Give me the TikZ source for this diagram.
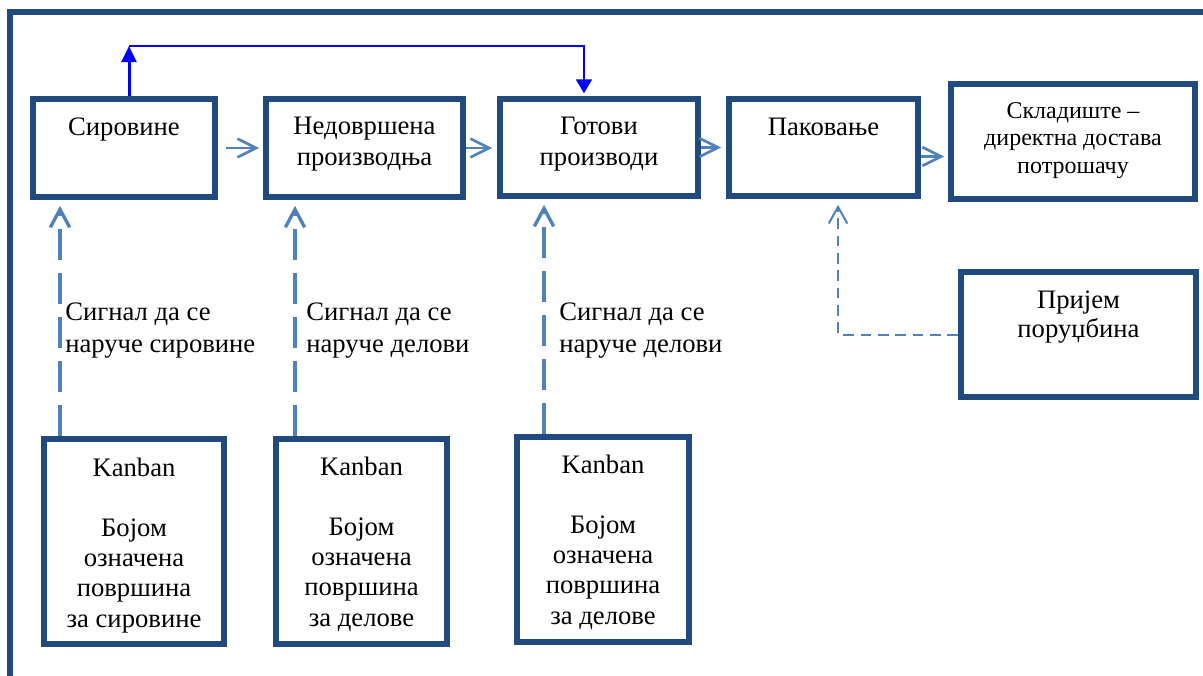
\documentclass[tikz,border=0pt]{standalone}
\usepackage{fontspec}
\setmainfont{Liberation Serif}
\usetikzlibrary{arrows.meta}
\definecolor{boxblue}{RGB}{33,74,127}
\definecolor{flowblue}{RGB}{79,129,189}
\definecolor{linkblue}{RGB}{0,0,255}
\begin{document}
\begin{tikzpicture}[x=0.75pt,y=-0.75pt,
  box/.style 2 args={draw=boxblue, line width=4.2pt, fill=white,
    minimum width=#1*0.75pt, minimum height=#2*0.75pt, inner sep=0pt},
  % multi-line texts are placed by the baseline of their last line
  txt/.style={font=\fontsize{20}{23}\selectfont, align=center, inner sep=0pt, anchor=base},
  sigtxt/.style={font=\fontsize{20}{24}\selectfont, align=left, inner sep=0pt, anchor=base west},
  flow/.style={draw=flowblue, line width=2pt, -{Straight Barb[length=14pt,width=14pt]}},
  sig/.style={draw=flowblue, line width=2.5pt, dash pattern=on 23pt off 10pt,
    -{Straight Barb[length=13.5pt,width=14.5pt]}, shorten >=4.35pt},
  ord/.style={draw=flowblue, line width=1.5pt, dash pattern=on 8pt off 5pt,
    -{Straight Barb[length=12.5pt,width=14pt]}, shorten >=4.35pt},
  link/.style={draw=linkblue, line width=1.5pt}
]
\useasboundingbox (0,0) rectangle (1203,675);
\fill[white] (0,0) rectangle (1203,675);

% outer frame
\draw[boxblue, line width=4.5pt] (10.3,12.2) rectangle (1240,720);

% process chain
\node[box={182.5}{98.5}] (sir) at (124,148) {};
\node[box={197.5}{98.5}] (ned) at (364.5,148) {};
\node[box={198.5}{97.5}] (got) at (599,147.5) {};
\node[box={189.5}{97.5}] (pak) at (823.5,147.5) {};
\node[box={244.5}{115.5}] (skl) at (1073,141.5) {};
\node[box={235.5}{125.5}] (pri) at (1078.5,334.5) {};

% kanban boards
\node[box={180.5}{205.5}] (k1) at (134,541.5) {};
\node[box={171.5}{205.5}] (k2) at (361.5,541.5) {};
\node[box={172.5}{205.5}] (k3) at (603,539.5) {};

% box texts
\node[txt] (sirT) at (124,135) {Сировине};
\node[txt] (nedT) at (364.5,165) {Недовршена\\производња};
\node[txt] (gotT) at (599,165) {Готови\\производи};
\node[txt] (pakT) at (823.5,135) {Паковање};
\node[txt, font=\fontsize{18}{20.6}\selectfont] (sklT) at (1073,173)
  {Складиште –\\директна достава\\потрошачу};
\node[txt, font=\fontsize{20}{21.75}\selectfont] (priT) at (1078.5,337) {Пријем\\поруџбина};
\node[txt, font=\fontsize{20}{22.6}\selectfont] (k1T) at (134,627)
  {Kanban\\[22.6pt]Бојом\\означена\\површина\\за сировине};
\node[txt, font=\fontsize{20}{22.6}\selectfont] (k2T) at (361.5,626)
  {Kanban\\[22.6pt]Бојом\\означена\\површина\\за делове};
\node[txt, font=\fontsize{20}{22.6}\selectfont] (k3T) at (603,624)
  {Kanban\\[22.6pt]Бојом\\означена\\површина\\за делове};

% signal labels
\node[sigtxt] (s1T) at (65,352) {Сигнал да се\\наруче сировине};
\node[sigtxt] (s2T) at (306,352) {Сигнал да се\\наруче делови};
\node[sigtxt] (s3T) at (559,352) {Сигнал да се\\наруче делови};

% material flow
\draw[flow, shorten <=5.85pt, shorten >=2.85pt] (sir.east) -- (ned.west);
\draw[flow, shorten >=3.6pt] (ned.east) -- (ned.east -| got.west);
\draw[flow, shorten >=3.6pt] (got.east) -- (got.east -| pak.west);
\coordinate (y4) at (0,156.5);
\draw[flow, shorten >=2.85pt] (pak.east |- y4) -- (skl.west |- y4);

% kanban signals
\coordinate (x1) at (60,0);
\coordinate (x2) at (295,0);
\coordinate (x3) at (544,0);
\coordinate (x4) at (838,0);
\draw[sig] (k1.north -| x1) -- (sir.south -| x1);
\draw[sig] (k2.north -| x2) -- (ned.south -| x2);
\draw[sig] (k3.north -| x3) -- (got.south -| x3);

% incoming orders
\draw[ord] (pri.west) -| (pak.south -| x4);

% direct link from raw materials to finished goods
\coordinate (c1) at (129,46);
\coordinate (c2) at (584,46);
\draw[link, line width=2.25pt, -{Triangle[length=12pt,width=11pt]}] (sir.north -| c1) -- (c1);
\draw[link, -{Triangle[length=10.5pt,width=12pt]}, shorten >=2pt] (c1) -- (c2) -- (got.north -| c2);
\end{tikzpicture}
\end{document}
